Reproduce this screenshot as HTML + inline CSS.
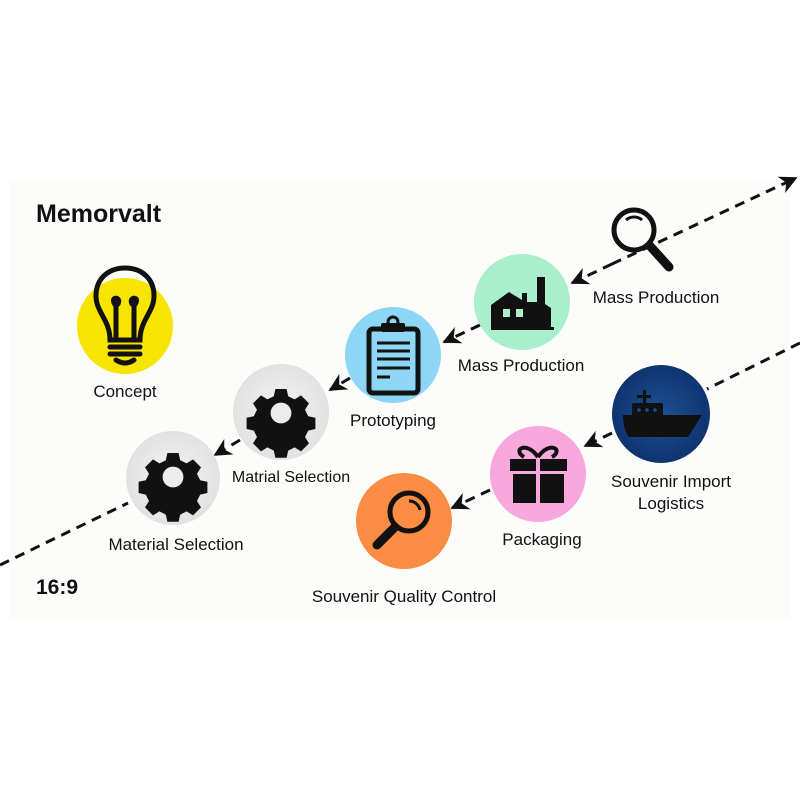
<!DOCTYPE html>
<html><head><meta charset="utf-8"><style>
body{margin:0;width:800px;height:800px;background:#fff;overflow:hidden;font-family:"Liberation Sans",sans-serif}
</style></head><body>
<svg width="800" height="800" viewBox="0 0 800 800" xmlns="http://www.w3.org/2000/svg" font-family="Liberation Sans, sans-serif">
<defs>
<marker id="ah" viewBox="0 0 10 10" refX="9" refY="5" markerWidth="6" markerHeight="6" orient="auto"><path d="M0,0 L10,5 L0,10 L3,5z" fill="#111"/></marker>
<radialGradient id="gr"><stop offset="0" stop-color="#f4f4f4"/><stop offset="1" stop-color="#e2e2e2"/></radialGradient>
<radialGradient id="nv"><stop offset="0" stop-color="#1d4f92"/><stop offset="1" stop-color="#0f3470"/></radialGradient>
<g id="gear"><path d="M-7,-30 h14 l2,9 l8,4 l8,-5 l10,10 l-5,8 l4,8 l9,2 v14 l-9,2 l-4,8 l5,8 l-10,10 l-8,-5 l-8,4 l-2,9 h-14 l-2,-9 l-8,-4 l-8,5 l-10,-10 l5,-8 l-4,-8 l-9,-2 v-14 l9,-2 l4,-8 l-5,-8 l10,-10 l8,5 l8,-4z" fill="#111"/><circle r="13" fill="#ececec"/></g>
</defs>
<rect width="800" height="800" fill="#fff"/>
<rect x="10" y="180" width="780" height="440" fill="#fcfdfb"/>
<text x="36" y="222" font-size="25" font-weight="bold" fill="#111">Memorvalt</text>
<text x="36" y="594" font-size="21" font-weight="bold" fill="#111">16:9</text>
<g stroke="#111" stroke-width="3" stroke-dasharray="10,7" fill="none">
<line x1="0" y1="565" x2="128" y2="503"/>
<line x1="612" y1="264" x2="796" y2="178" marker-end="url(#ah)"/>
<line x1="612" y1="264" x2="572" y2="283" marker-end="url(#ah)"/>
<line x1="480" y1="325" x2="444" y2="342" marker-end="url(#ah)"/>
<line x1="350" y1="378" x2="330" y2="390" marker-end="url(#ah)"/>
<line x1="240" y1="440" x2="215" y2="455" marker-end="url(#ah)"/>
<line x1="800" y1="343" x2="707" y2="389"/>
<line x1="612" y1="433" x2="585" y2="446" marker-end="url(#ah)"/>
<line x1="490" y1="490" x2="452" y2="508" marker-end="url(#ah)"/>
</g>
<!-- concept -->
<circle cx="125" cy="326" r="48" fill="#f7e400"/>
<g stroke="#111" stroke-width="5" fill="none" stroke-linecap="round">
<path d="M110,340 C110,320 96,312 96,296 C96,278 109,268 125,268 C141,268 154,278 154,296 C154,312 140,320 140,340 Z"/>
<path d="M116,340 V306 M134,340 V306 M116,306 c-8,-10 6,-10 2,-2 M134,306 c8,-10 -6,-10 -2,-2"/>
<line x1="110" y1="347" x2="140" y2="347"/><line x1="110" y1="354" x2="140" y2="354"/>
<path d="M116,360 Q125,366 134,360"/>
</g>
<text x="125" y="397" font-size="17" text-anchor="middle" fill="#111">Concept</text>
<!-- magnifier standalone -->
<g stroke="#111" fill="none"><circle cx="634" cy="230" r="20" stroke-width="5"/><line x1="650" y1="246" x2="669" y2="267" stroke-width="9" stroke-linecap="round"/><path d="M626,220 a12,12 0 0 1 16,0" stroke-width="3"/></g>
<!-- green factory -->
<circle cx="522" cy="302" r="48" fill="#a9efcc"/>
<path d="M491,327 V305 L509,292 L522,300 V293 L527,293 V302 L537,302 V277 L545,277 V304 L551,308 V327 L554,327 V330 L491,330Z" fill="#111"/>
<rect x="503" y="309" width="7" height="8" fill="#a9efcc"/><rect x="516" y="309" width="7" height="8" fill="#a9efcc"/>
<text x="656" y="303" font-size="17" text-anchor="middle" fill="#111">Mass Production</text>
<!-- blue clipboard -->
<circle cx="393" cy="355" r="48" fill="#8ed6f6"/>
<rect x="369" y="329" width="49" height="64" rx="4" fill="none" stroke="#111" stroke-width="5"/>
<rect x="381" y="323" width="24" height="9" rx="2" fill="#111"/><circle cx="393" cy="322" r="5" fill="none" stroke="#111" stroke-width="3"/>
<g stroke="#111" stroke-width="3"><line x1="377" y1="343" x2="410" y2="343"/><line x1="377" y1="351" x2="410" y2="351"/><line x1="377" y1="359" x2="410" y2="359"/><line x1="377" y1="368" x2="410" y2="368"/><line x1="377" y1="377" x2="390" y2="377"/></g>
<text x="521" y="371" font-size="17" text-anchor="middle" fill="#111">Mass Production</text>
<!-- gears -->
<circle cx="281" cy="412" r="48" fill="url(#gr)"/>
<use href="#gear" transform="translate(281,413) scale(0.8)"/>
<text x="393" y="426" font-size="17" text-anchor="middle" fill="#111">Prototyping</text>
<circle cx="173" cy="478" r="47" fill="url(#gr)"/>
<use href="#gear" transform="translate(173,477) scale(0.8)"/>
<text x="291" y="482" font-size="16" text-anchor="middle" fill="#111">Matrial Selection</text>
<text x="176" y="550" font-size="17" text-anchor="middle" fill="#111">Material Selection</text>
<!-- navy ship -->
<circle cx="661" cy="414" r="49" fill="url(#nv)"/>
<g fill="#111"><rect x="632" y="403" width="31" height="14" rx="2"/><rect x="643" y="390" width="3" height="14"/><rect x="637" y="395" width="14" height="3"/>
<path d="M623,415 H702 L688,437 H629 Q623,430 623,415Z"/></g>
<g fill="#1d4f92"><circle cx="639" cy="410" r="1.8"/><circle cx="647" cy="410" r="1.8"/><circle cx="655" cy="410" r="1.8"/></g>
<text x="671" y="487" font-size="17" text-anchor="middle" fill="#111">Souvenir Import</text>
<text x="671" y="509" font-size="17" text-anchor="middle" fill="#111">Logistics</text>
<!-- pink gift -->
<circle cx="538" cy="474" r="48" fill="#f8a8dc"/>
<g fill="#111"><rect x="510" y="459" width="57" height="12"/><rect x="513" y="474" width="51" height="29"/></g>
<rect x="536" y="457" width="4" height="48" fill="#f8a8dc"/>
<g stroke="#111" stroke-width="4" fill="none"><path d="M538,457 C526,440 512,450 524,457"/><path d="M538,457 C550,440 564,450 552,457"/></g>
<text x="542" y="545" font-size="17" text-anchor="middle" fill="#111">Packaging</text>
<!-- orange magnifier -->
<circle cx="404" cy="521" r="48" fill="#fb8c43"/>
<g stroke="#111" fill="none"><circle cx="409" cy="512" r="19" stroke-width="5"/><line x1="395" y1="527" x2="377" y2="545" stroke-width="9" stroke-linecap="round"/><path d="M409,501 a11,11 0 0 1 11,9" stroke-width="3"/></g>
<text x="404" y="602" font-size="17" text-anchor="middle" fill="#111">Souvenir Quality Control</text>
</svg>
</body></html>
